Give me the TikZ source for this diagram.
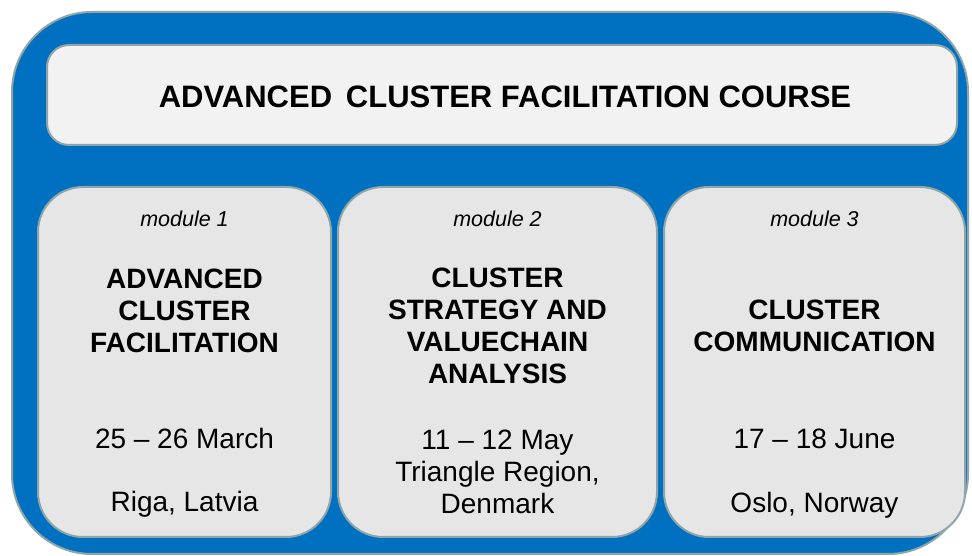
\documentclass[tikz,border=0pt]{standalone}
\usepackage{fontspec}
\setmainfont{Liberation Sans}
\definecolor{bgblue}{HTML}{0070C0}
\definecolor{rim}{HTML}{8FA5A8}
\definecolor{ttlfill}{HTML}{F2F2F2}
\definecolor{modfill}{HTML}{E6E6E6}
\begin{document}
\begin{tikzpicture}[x=1pt,y=1pt,
  outer/.style={rectangle,draw=rim,fill=bgblue,line width=2pt,rounded corners=80pt,inner sep=0pt},
  ttl/.style={rectangle,draw=rim,fill=ttlfill,line width=2pt,rounded corners=22pt,inner sep=0pt},
  modbox/.style={rectangle,draw=rim,fill=modfill,line width=2pt,rounded corners=45pt,inner sep=0pt,minimum height=350pt},
  big/.style={anchor=base,inner sep=0pt,font=\fontsize{31}{36}\selectfont\bfseries},
  hd/.style={anchor=base,inner sep=0pt,align=center,font=\fontsize{28}{32}\selectfont\bfseries},
  md/.style={anchor=base,inner sep=0pt,font=\fontsize{21.5}{25}\selectfont\itshape},
  tx/.style={anchor=base,inner sep=0pt,align=center,font=\fontsize{28}{32}\selectfont}]
    \useasboundingbox (0,0) rectangle (972,556);
    \node[outer,minimum width=956pt,minimum height=542pt] (bg) at (490,273) {};
    \node[ttl,minimum width=910pt,minimum height=100pt] (head) at (502,461) {};
    \node[big] (title) at (505,448) {ADVANCED\, CLUSTER FACILITATION COURSE};
    % modules
    \node[modbox,minimum width=293pt] (m1) at (184.5,194) {};
    \node[modbox,minimum width=319pt] (m2) at (497.5,194) {};
    \node[modbox,minimum width=301pt] (m3) at (814.5,194) {};
    \node[md] (l1) at (184.5,329) {module 1};
    \node[md] (l2) at (497.5,329) {module 2};
    \node[md] (l3) at (814.5,329) {module 3};
    % multi-line nodes sit on their last line
    \node[hd] (h1) at (184.5,203) {ADVANCED\\CLUSTER\\FACILITATION};
    \node[hd] (h2) at (497.5,172) {CLUSTER\\STRATEGY AND\\VALUECHAIN\\ANALYSIS};
    \node[hd] (h3) at (814.5,204) {CLUSTER\\COMMUNICATION};
    \node[tx] (d1) at (184.5,107) {25 -- 26 March};
    \node[tx] (d2) at (497.5,42) {11 -- 12 May\\Triangle Region,\\Denmark};
    \node[tx] (d3) at (814.5,107) {17 -- 18 June};
    \node[tx] (p1) at (184.5,44) {Riga, Latvia};
    \node[tx] (p3) at (814.5,43) {Oslo, Norway};
\end{tikzpicture}
\end{document}
